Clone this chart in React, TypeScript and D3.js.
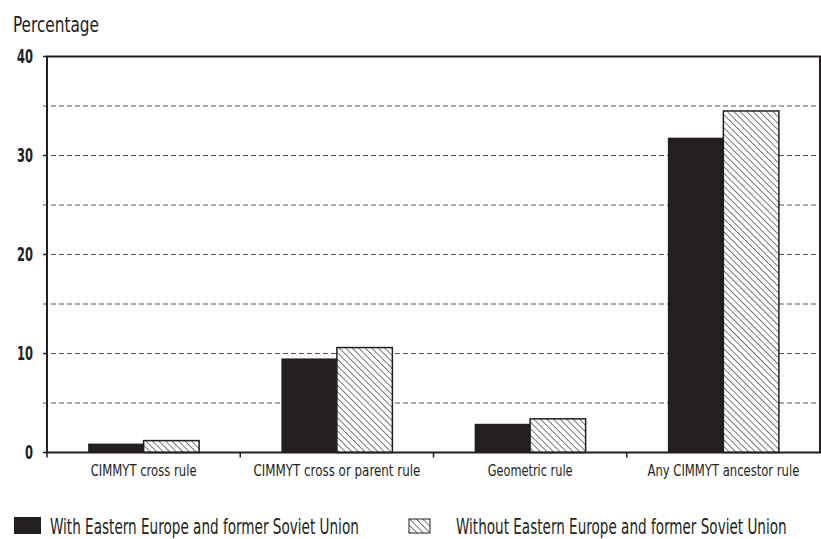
import { useLayoutEffect, useRef } from 'react';
import * as d3 from 'd3';

// data
const categories = [
  'CIMMYT cross rule',
  'CIMMYT cross or parent rule',
  'Geometric rule',
  'Any CIMMYT ancestor rule',
];
const withEEFSU = [0.9, 9.5, 2.9, 31.8];
const withoutEEFSU = [1.2, 10.6, 3.4, 34.5];
const seriesNames = [
  'With Eastern Europe and former Soviet Union',
  'Without Eastern Europe and former Soviet Union',
];
const yTicks = [0, 10, 20, 30, 40];
const gridValues = [5, 10, 15, 20, 25, 30, 35];

// layout: rendered widths of the condensed labels in the original
const categoryLabelWidths = [106, 167, 85, 152];
const legendLabelWidths = [309, 331];

const W = 821;
const H = 539;
const margin = { top: 56.5, right: 1, bottom: 86.5, left: 47 };
const innerW = W - margin.left - margin.right;
const innerH = H - margin.top - margin.bottom;
const ink = '#231f20';
const font = '"DejaVu Sans Condensed", "Liberation Sans Narrow", sans-serif';

export default function App() {
  const svgRef = useRef<SVGSVGElement>(null);
  const x = d3.scaleBand().domain(categories).range([0, innerW]);
  const y = d3.scaleLinear().domain([0, 40]).range([innerH, 0]);
  const barW = 55.5;

  // squeeze each label horizontally to the width it has in the original
  useLayoutEffect(() => {
    if (!svgRef.current) return;
    d3.select(svgRef.current)
      .selectAll<SVGTextElement, unknown>('text[data-w]')
      .each(function () {
        const target = +this.getAttribute('data-w')!;
        const natural = this.getComputedTextLength();
        if (natural > 0) d3.select(this).attr('transform', `scale(${target / natural},1)`);
      });
  }, []);

  return (
    <svg
      ref={svgRef}
      width={W}
      height={H}
      style={{ position: 'absolute', left: 0, top: 0, background: '#fff' }}
      fontFamily={font}
    >
      <defs>
        <pattern id="hatch" patternUnits="userSpaceOnUse" width="4.6" height="4.6" patternTransform="rotate(-45)">
          <rect width="4.6" height="4.6" fill="#fff" />
          <line x1="0" y1="0" x2="0" y2="4.6" stroke={ink} strokeWidth="1.2" />
        </pattern>
      </defs>
      <g transform="translate(13,31.5)">
        <text fontSize={22} fill={ink} data-w={86}>
          Percentage
        </text>
      </g>
      <g transform={`translate(${margin.left},${margin.top})`}>
        {gridValues.map((v) => (
          <line
            key={v}
            x1={-4}
            x2={innerW}
            y1={y(v)}
            y2={y(v)}
            stroke="#555"
            strokeDasharray="5,3"
            strokeWidth={1}
          />
        ))}
        {yTicks.map((v) => (
          <g key={v}>
            <line x1={-4} x2={0} y1={y(v)} y2={y(v)} stroke={ink} strokeWidth={1.5} />
            <g transform={`translate(-14,${y(v)})`}>
              <text
                dy="0.36em"
                textAnchor="end"
                fontSize={19}
                fontWeight="bold"
                fill={ink}
                data-w={v === 0 ? 8 : 16}
              >
                {v}
              </text>
            </g>
          </g>
        ))}
        {categories.map((c, i) => {
          const cx = x(c)! + x.bandwidth() / 2;
          return (
            <g key={c}>
              <rect
                x={cx - barW}
                y={y(withEEFSU[i])}
                width={barW}
                height={innerH - y(withEEFSU[i])}
                fill={ink}
              />
              <rect
                x={cx}
                y={y(withoutEEFSU[i])}
                width={barW}
                height={innerH - y(withoutEEFSU[i])}
                fill="url(#hatch)"
                stroke={ink}
                strokeWidth={1.5}
              />
              <g transform={`translate(${cx},${innerH + 23.5})`}>
                <text textAnchor="middle" fontSize={16.5} fill={ink} data-w={categoryLabelWidths[i]}>
                  {c}
                </text>
              </g>
            </g>
          );
        })}
        {categories.slice(1).map((c) => (
          <line key={c} x1={x(c)!} x2={x(c)!} y1={innerH} y2={innerH + 5} stroke={ink} strokeWidth={1.5} />
        ))}
        <line x1={0} x2={0} y1={innerH} y2={innerH + 5} stroke={ink} strokeWidth={1.5} />
        <rect x={0} y={0} width={innerW} height={innerH} fill="none" stroke={ink} strokeWidth={2} />
      </g>
      <g transform="translate(14,517)">
        <rect width={27} height={17} fill={ink} />
        <g transform="translate(36,17)">
          <text fontSize={21} fill={ink} data-w={legendLabelWidths[0]}>
            {seriesNames[0]}
          </text>
        </g>
      </g>
      <g transform="translate(409,519)">
        <rect width={21} height={14} fill="url(#hatch)" stroke={ink} strokeWidth={1} />
        <g transform="translate(47,15)">
          <text fontSize={21} fill={ink} data-w={legendLabelWidths[1]}>
            {seriesNames[1]}
          </text>
        </g>
      </g>
    </svg>
  );
}
